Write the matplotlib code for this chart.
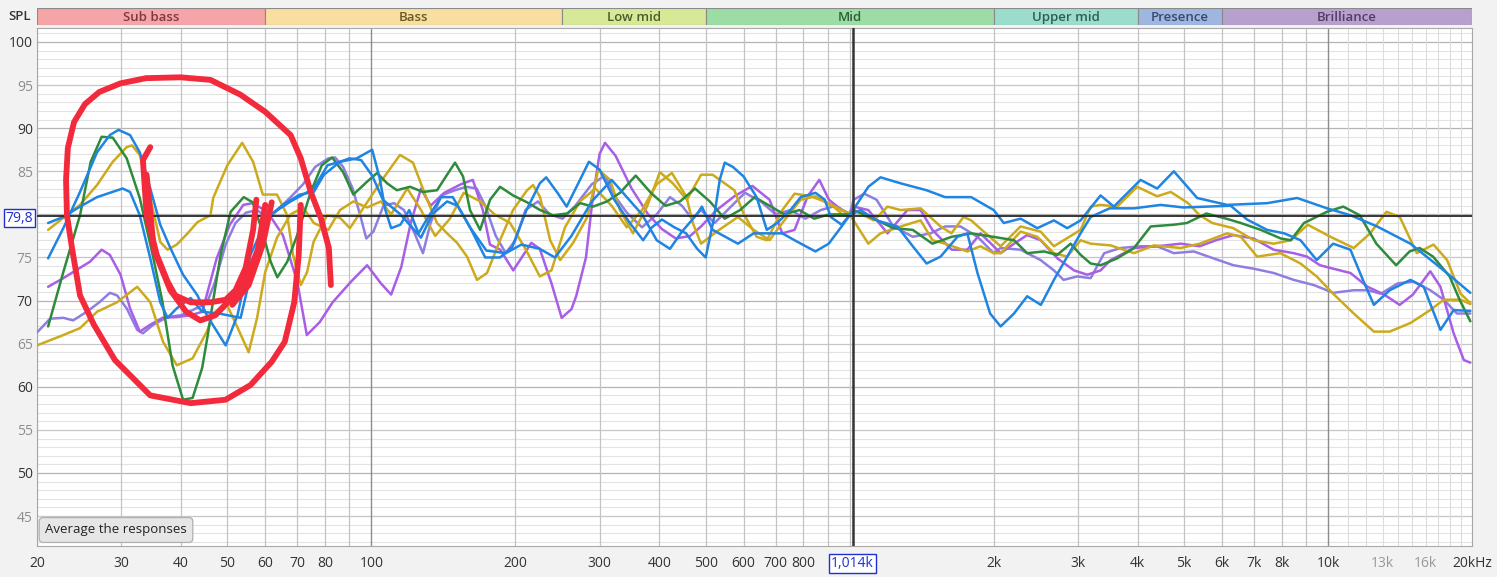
import matplotlib
matplotlib.use("Agg")
import matplotlib.pyplot as plt
from matplotlib.ticker import NullLocator

# ---------------- data ----------------
band_names = ["Sub bass", "Bass", "Low mid", "Mid", "Upper mid", "Presence", "Brilliance"]
band_edges = [20, 60, 250, 500, 2000, 4000, 6000, 20000]
band_colors = ["#f5a4a7", "#f8de9f", "#d7e897", "#9bdda4", "#9cdccd", "#9eb6e0", "#b7a0ce"]
band_text_colors = ["#7d3b3e", "#6a5a26", "#4b5b2a", "#2f5e3a", "#2d5d57", "#39496f", "#533f63"]

x_tick_values = [20, 30, 40, 50, 60, 70, 80, 100, 200, 300, 400, 500, 600, 700, 800,
                 1014, 2000, 3000, 4000, 5000, 6000, 7000, 8000, 10000, 13000, 16000, 20000]
x_tick_labels = ["20", "30", "40", "50", "60", "70", "80", "100", "200", "300", "400", "500",
                 "600", "700", "800", "1,014k", "2k", "3k", "4k", "5k", "6k", "7k", "8k",
                 "10k", "13k", "16k", "20kHz"]
y_tick_values = [45, 50, 55, 60, 65, 70, 75, 79.8, 85, 90, 95, 100]
y_tick_labels = ["45", "50", "55", "60", "65", "70", "75", "79,8", "85", "90", "95", "100"]
cursor_db = 79.8
cursor_freq = 1014

green_f = [21.1, 22.7, 24.6, 25.9, 27.3, 28.8, 30.8, 32.8, 34.9, 36.6, 38.4, 40.4, 42.3, 44.3, 45.5,
           46.7, 48.4, 50.8, 54.1, 56.5, 59.2, 61.6, 63.6, 66.7, 70.0, 74.7, 78.8, 82.8, 87.3, 91.7,
           98.0, 102.8, 107.9, 113.1, 120.5, 128.2, 137.2, 144, 149.6, 155.5, 160.8, 168.8, 177.1,
           185.8, 197.8, 211.6, 225.3, 239.8, 256.6, 273.2, 290.8, 311, 331, 357, 384, 412, 442, 475,
           510, 548, 590, 633, 680, 730, 785, 843, 905, 1000, 1019, 1123, 1234, 1355, 1489, 1634,
           1795, 1995, 2206, 2350, 2548, 2716, 2897, 3040, 3190, 3347, 3625, 3930, 4260, 4760, 5070,
           5570, 6130, 6570, 7240, 7970, 8360, 8910, 9950, 10760, 11650, 12620, 13880, 14810, 15540,
           16580, 17960, 18840, 19840]
green_db = [67.0, 73.3, 79.9, 86.1, 89.0, 88.9, 86.5, 81.9, 75.3, 69.8, 62.5, 58.5, 58.7, 62.2, 66.0,
            70.0, 75.3, 80.3, 82.0, 81.4, 78.0, 74.5, 72.7, 74.5, 77.6, 82.6, 85.7, 86.6, 84.9, 82.3,
            83.8, 84.8, 83.6, 82.8, 83.2, 82.6, 82.8, 84.6, 86.0, 84.4, 80.5, 78.2, 81.7,
            83.2, 82.2, 81.4, 80.5, 79.9, 80.1, 81.3, 80.9, 81.5, 82.5, 84.5, 82.5, 81.0, 81.5, 83.0,
            81.5, 79.5, 80.5, 82.0, 81.0, 80.0, 80.5, 79.5, 80.0, 80.0, 80.5, 79.5, 78.4, 78.2, 76.6, 77.4,
            77.8, 77.4, 77.0, 75.5, 75.7, 75.3, 76.6, 75.3, 74.3, 74.1, 74.9, 76.1, 78.6, 78.8, 79.0,
            80.1, 79.5, 79.0, 78.2, 77.2, 77.0, 79.0, 80.3, 80.9, 79.9, 76.6, 74.1, 75.7, 76.1,
            75.1, 72.8, 70.1, 67.6]

blue_a_f = [21.1, 22.7, 24.6, 26.7, 28.4, 29.6, 31.3, 32.8, 34.5, 36.2, 38.0, 40.4, 43.3, 45.3, 49.6,
            52.5, 55.9, 60.6, 65.3, 70.9, 75.8, 79.6, 86.0, 93.2, 100.4, 104.0, 107.0, 110.0, 115.0,
            120.0, 125.5, 131.5, 140, 148, 160.8, 173, 185.8, 197, 211, 225, 232, 245, 256, 273, 285,
            300, 322, 347, 370, 386, 405, 430, 455, 480, 500, 520, 535, 548, 570, 600, 639, 671, 705,
            752, 790, 848, 887, 913, 962, 1000, 1094, 1160, 1278, 1448, 1583, 1795, 2000, 2100, 2277,
            2467, 2673, 2850, 3039, 3346, 3567, 4056, 4394, 4761, 5327, 6154, 7460, 8619, 9956, 11140,
            12665, 14869, 17457, 19840]
blue_a_db = [74.9, 78.4, 82.6, 87.2, 89.2, 89.8, 89.2, 87.2, 83.0, 78.8, 76.1, 73.0, 70.6, 68.3, 64.8,
             68.3, 75.3, 79.6, 81.1, 82.3, 82.6, 84.6, 86.1, 86.5, 87.5, 84.3, 80.5, 78.4, 78.8,
             80.5, 77.8, 79.7, 82.0, 82.0, 78.5, 75.0, 75.0, 76.2, 80.5, 83.6, 84.3, 82.5, 80.9, 84.0, 86.1,
             85.2, 81.7, 79.0, 77.0, 78.5, 79.4, 78.5, 77.8, 76.0, 75.0, 79.5, 84.0, 86.0, 85.5, 84.4, 82.0,
             78.2, 79.0, 80.5, 82.0, 82.5, 81.7, 79.7, 78.8, 79.9, 83.2, 84.3, 83.6, 82.8, 82.0, 82.0, 80.5,
             79.0, 79.5, 78.4, 79.3, 78.4, 79.3, 82.2, 80.9, 84.0, 83.0, 85.0, 81.9, 81.1, 81.3, 81.9, 80.7,
             79.9, 78.6, 76.6, 73.5, 70.9]

blue_b_f = [21.1, 22.7, 24.6, 26.7, 28.4, 30.2, 31.3, 32.8, 34.5, 36.2, 37.5, 39.2, 41.9, 44.3, 48.0,
            53.3, 57.7, 61.3, 67.8, 75.8, 81.0, 86.0, 90.0, 95.2, 100.4, 105.7, 115, 127, 134, 144, 151.5,
            160.8, 174, 191, 206, 225, 242, 262, 289, 318, 342, 368, 395, 421, 446, 479, 491, 517, 584,
            630, 723, 767, 848, 904, 962, 1000, 1054, 1138, 1258, 1355, 1448, 1549, 1680, 1762, 1850,
            1966, 2068, 2206, 2350, 2510, 2673, 2850, 3039, 3190, 3495, 3929, 4470, 4987, 5570, 6260,
            6774, 7460, 8100, 8760, 9470, 10250, 11140, 11830, 12470, 13460, 14870, 15850, 17180, 18310,
            19840]
blue_b_db = [79.0, 79.7, 80.9, 82.0, 82.5, 83.0, 82.6, 79.9, 74.9, 69.8, 68.0, 69.1, 70.3, 68.7, 68.5,
             68.0, 76.1, 79.9, 81.5, 83.0, 85.7, 86.1, 86.5, 86.3, 84.5, 81.7, 80.0, 77.3, 80.0, 81.5, 81.0,
             78.5, 75.8, 75.5, 76.5, 76.0, 75.0, 77.5, 81.5, 84.0, 82.0, 80.0, 77.0, 76.0, 78.0, 80.0, 80.9,
             78.2, 76.6, 77.8, 77.8, 77.0, 75.7, 76.6, 78.6, 79.9, 80.5, 79.3, 78.6, 76.3, 74.3, 75.1, 77.4,
             77.8, 73.2, 68.5, 67.0, 68.5, 70.5, 69.5, 72.4, 75.1, 77.8, 79.7, 80.7, 80.7, 81.1, 80.8, 80.9,
             81.0, 79.4, 78.2, 77.8, 77.0, 74.7, 76.6, 75.9, 72.4, 69.5, 71.2, 72.4, 71.6, 66.6, 68.9, 68.8]

gold_a_f = [21.1, 22.7, 24.6, 26.7, 28.8, 30.8, 31.6, 32.8, 34.5, 36.2, 37.5, 39.2, 41.3, 43.3, 46.1,
            46.7, 50.0, 53.7, 56.6, 59.3, 63.5, 66.7, 68.6, 71.2, 73.4, 75.7, 80.8, 86.0, 90.2, 98.0,
            104.7, 114.8, 122.2, 130.8, 137.2, 144, 151.1, 158.5, 166.3, 174.5, 185.8, 197.8, 211.6,
            217.9, 225.3, 236.5, 248.2, 264.2, 282.8, 298.2, 315.6, 331.0, 352.3, 376.9, 401, 426.9,
            456.7, 489, 517, 574, 600, 639, 671, 723, 767, 829, 904, 962, 1000, 1019, 1123, 1200, 1278,
            1407, 1549, 1632, 1730, 1795, 1925, 2068, 2277, 2507, 2673, 3039, 3190, 3346, 3625, 3990,
            4394, 4690, 5100, 5390, 5730, 6340, 7000, 7700, 8360, 9070, 10120, 11320, 12250, 13250,
            14130, 15330, 16620, 17740, 18930, 19840]
gold_a_db = [78.2, 79.6, 81.1, 83.4, 86.1, 87.8, 88.0, 86.9, 81.9, 76.8, 75.9, 76.5, 77.8, 79.1, 79.9,
             81.9, 85.7, 88.3, 86.1, 82.3, 82.3, 79.9, 75.3, 71.8, 73.3, 76.8, 79.9, 79.6, 78.4, 81.4,
             83.8, 86.9, 86.0, 81.7, 79.0, 77.8, 76.7, 75.1, 72.4, 73.2, 77.0, 80.5, 82.8,
             83.4, 82.0, 77.0, 74.7, 76.7, 79.7, 85.2, 84.0, 80.5, 77.8, 80.9, 84.9, 83.6,
             81.7, 84.6, 84.6, 82.8, 80.1, 77.4, 77.0, 80.5, 82.4, 82.1, 81.3, 80.5, 80.1, 80.5, 79.3, 80.9,
             80.5, 80.7, 78.6, 77.8, 79.7, 79.3, 77.8, 76.3, 78.6, 78.0, 76.3, 78.2, 80.9, 81.1, 80.9, 83.2,
             82.1, 82.6, 81.3, 79.9, 79.0, 78.4, 77.0, 76.6, 77.0, 78.8, 77.4, 76.1, 77.8, 80.3,
             79.7, 75.5, 76.5, 74.7, 70.8, 69.7]

gold_b_f = [20.0, 22.7, 24.6, 26.7, 29.4, 32.4, 34.5, 36.7, 39.2, 42.3, 45.3, 46.8, 49.6, 51.9, 55.4,
            57.7, 60.0, 63.5, 67.8, 72.0, 75.8, 81.3, 86.0, 91.7, 98.0, 104.7, 110, 118.9, 127, 136,
            146, 156, 169, 181, 195, 210, 225, 238, 254, 273, 294, 318, 342, 368, 395, 425, 456, 470,
            489, 527, 584, 630, 680, 723, 790, 848, 925, 970, 1000, 1094, 1160, 1278, 1407, 1490, 1583,
            1762, 1877, 2000, 2068, 2277, 2467, 2673, 2850, 3039, 3190, 3512, 3929, 4325, 4920, 5390,
            6154, 6570, 7110, 7950, 8760, 9470, 10250, 11320, 12470, 13460, 14870, 16360, 17460, 18930,
            19840]
gold_b_db = [64.8, 66.0, 66.8, 68.7, 69.8, 71.6, 69.8, 65.2, 62.5, 63.3, 66.4, 68.5, 69.8, 67.5, 64.0,
             68.0, 73.3, 77.3, 80.0, 80.8, 79.0, 78.2, 80.5, 81.5, 80.8, 81.5, 80.0, 83.0, 80.5, 77.5,
             79.5, 82.5, 81.5, 80.0, 79.0, 76.0, 72.8, 73.5, 78.5, 81.5, 83.0, 81.0, 78.5, 80.5, 83.5, 84.8,
             82.0, 79.0, 76.6, 78.0, 79.7, 78.2, 77.0, 79.0, 81.7, 82.1, 80.9, 79.9, 80.0, 76.6, 77.8, 78.6,
             79.3, 77.0, 76.6, 75.7, 76.3, 75.5, 75.5, 78.0, 77.4, 75.5, 75.1, 77.0, 76.6, 76.4, 75.5, 76.4,
             76.1, 76.6, 77.8, 77.4, 75.1, 75.5, 74.3, 72.8, 70.8, 68.5, 66.4, 66.4, 67.4, 68.9, 70.1, 70.1,
             69.6]

violet_f = [21.1, 22.7, 24.6, 25.8, 27.3, 28.4, 29.9, 31.3, 32.8, 34.5, 36.6, 39.2, 41.9, 44.3, 47.5,
            50.6, 54.0, 56.5, 60.6, 65.3, 70.0, 73.3, 78.0, 83.0, 90.7, 98.0, 104.7, 110.0, 115.5, 120.9,
            127, 133, 142, 154, 163, 171, 177, 186, 198, 216, 225, 238, 250, 262, 268, 281, 290, 300, 308,
            324, 350, 379, 405, 433, 464, 489, 527, 574, 626, 680, 723, 767, 817, 864, 905, 962, 1000,
            1019, 1094, 1200, 1320, 1407, 1489, 1634, 1762, 1877, 2000, 2068, 2206, 2350, 2507, 2718,
            2945, 3138, 3346, 3512, 3929, 4394, 4920, 5390, 5832, 6345, 6987, 7700, 8480, 9040, 9620,
            10250, 11140, 12100, 13100, 14120, 15050, 16360, 17180, 18310, 19230, 19840]
violet_db = [71.6, 72.6, 73.8, 74.5, 75.9, 75.3, 73.0, 69.1, 66.4, 67.2, 68.0, 68.1, 68.3, 68.7, 74.9,
             78.8, 81.1, 81.3, 80.3, 77.6, 72.2, 66.0, 67.5, 69.8, 72.2, 74.1, 72.0, 70.7, 73.9, 79.0,
             83.0, 81.0, 82.5, 83.5, 84.0, 80.5, 76.5, 75.9, 73.5, 76.7, 76.0, 72.0, 68.0, 69.0, 70.5, 75.0,
             81.7, 87.0, 88.3, 86.8, 83.0, 80.0, 78.3, 77.2, 77.5, 78.6, 80.5, 82.1, 83.3, 81.7, 77.8, 78.2,
             82.1, 84.0, 81.7, 80.5, 80.1, 80.9, 80.5, 77.8, 80.5, 80.5, 78.2, 75.9, 75.9, 77.8, 76.3, 75.5,
             76.6, 77.6, 77.0, 74.9, 73.5, 73.0, 73.5, 74.7, 76.1, 76.3, 76.6, 76.3, 77.0, 77.6, 77.2, 75.9,
             75.5, 75.1, 74.1, 73.7, 73.2, 71.6, 70.7, 69.5, 70.7, 73.4, 71.6, 66.2, 63.1, 62.8]

lavender_f = [20.0, 21.3, 22.7, 23.8, 25.4, 27.0, 28.4, 29.4, 30.8, 32.4, 33.3, 35.0, 37.5, 40.0, 42.3,
              45.3, 47.0, 49.6, 52.0, 54.7, 57.7, 61.0, 63.6, 67.8, 72.0, 76.3, 81.3, 84.0, 87.3, 91.4,
              95.2, 97.6, 101, 106, 111.5, 117, 122.7, 128.2, 133, 140, 149.6, 158, 166, 173, 182, 191,
              200, 210, 223, 236, 251, 267, 289, 308, 324, 342, 368, 395, 421, 446, 468, 489, 522, 567,
              604, 652, 700, 752, 808, 870, 935, 1000, 1019, 1073, 1138, 1234, 1355, 1476, 1583, 1705,
              1850, 2000, 2068, 2277, 2507, 2673, 2800, 2990, 3190, 3405, 3685, 4056, 4394, 4761, 5240,
              5760, 6340, 6990, 7700, 8480, 9340, 10250, 11320, 12100, 12900, 13990, 15100, 16360, 17460,
              18600, 19840]
lavender_db = [66.3, 67.9, 68.0, 67.7, 68.7, 69.8, 70.9, 70.6, 69.1, 66.6, 66.2, 67.2, 68.1, 68.3, 68.9,
               69.7, 72.0, 76.5, 79.0, 80.2, 80.5, 79.5, 80.5, 82.0, 83.5, 85.5, 86.5, 86.6, 85.5, 83.0,
               79.5, 77.2, 78.0, 81.0, 81.3, 80.5, 78.0, 75.5, 79.0, 82.2, 82.8, 83.2, 83.0, 81.0, 77.5, 75.5,
               77.0, 80.5, 81.5, 80.0, 79.5, 81.0, 83.5, 84.5, 82.0, 80.2, 78.5, 80.0, 82.0, 81.0, 79.5, 80.5,
               79.0, 81.0, 82.5, 81.5, 80.0, 80.5, 79.5, 80.5, 81.0, 80.0, 81.7, 82.4, 81.7, 78.6, 77.4, 77.8,
               78.6, 78.6, 77.4, 75.5, 76.1, 75.9, 74.7, 73.5, 72.4, 72.8, 72.6, 75.5, 76.1, 76.3, 76.3, 75.5,
               75.7, 74.9, 74.1, 73.7, 73.2, 72.4, 71.8, 70.9, 71.2, 71.2, 70.8, 72.0, 72.2, 71.2, 70.1,
               68.5, 68.5]

# hand-drawn red annotation (frequency, dB)
red_loop_f = [71.2, 70.5, 69.0, 65.9, 61.9, 55.9, 49.6, 41.9, 34.5, 29.1, 26.3, 24.6, 23.7, 23.1, 23.0,
              23.2, 23.9, 25.2, 27.0, 29.9, 33.8, 39.9, 46.1, 53.2, 60.0, 67.8, 71.2, 74.7, 78.4, 81.5, 82.3]
red_loop_db = [81.1, 75.3, 69.8, 65.2, 62.9, 60.2, 58.5, 58.1, 59.0, 63.1, 67.2, 70.6, 75.9, 79.9, 84.0,
               87.7, 90.7, 92.8, 94.2, 95.2, 95.8, 95.9, 95.6, 93.9, 91.9, 89.2, 86.5, 82.6, 79.6, 76.1, 71.8]
red_s1_f = [34.5, 33.3, 33.9, 35.6, 37.5, 38.9, 41.9, 46.1, 49.6, 52.0, 54.6, 56.6, 57.5]
red_s1_db = [87.8, 86.3, 79.9, 75.3, 72.2, 70.6, 69.8, 69.8, 70.1, 71.2, 73.8, 78.2, 81.7]
red_s2_f = [33.9, 35.1, 38.0, 41.0, 43.9, 47.2, 50.7, 54.6, 57.9, 60.0]
red_s2_db = [84.6, 75.9, 71.2, 68.7, 67.7, 68.3, 70.1, 72.4, 75.9, 81.1]
red_s3_f = [61.9, 59.3, 55.4, 51.2]
red_s3_db = [81.4, 76.5, 71.8, 69.5]

# ---------------- figure ----------------
W, H = 1497, 577
plt.rcParams['font.family'] = ['Open Sans', 'DejaVu Sans']
fig = plt.figure(figsize=(W / 100, H / 100), dpi=100)
fig.patch.set_facecolor("#f2f2f2")

ax = fig.add_axes([37 / W, 1 - 546 / H, 1435 / W, 518 / H])
ax.set_xscale('log')
ax.set_xlim(20, 20000)
ax.set_ylim(41.53, 101.62)
ax.set_facecolor("white")

# horizontal grid
for d in range(42, 102):
    if d % 10 == 0:
        c, lw = "#b4b4b4", 0.9
    elif d % 5 == 0:
        c, lw = "#c6c6c6", 0.9
    else:
        c, lw = "#e3e3e3", 0.8
    ax.axhline(d, color=c, lw=lw, zorder=0)

# vertical grid
grid_freqs = ([f for f in range(20, 100, 10)] + [f for f in range(100, 1000, 100)] +
              [f for f in range(1000, 10000, 1000)] + [f for f in range(10000, 20001, 1000)])
for f in grid_freqs:
    if f in (100, 10000):
        c, lw = "#8c8c8c", 1.0
    elif f > 10000:
        c, lw = "#dcdcdc", 0.8
    else:
        c, lw = "#c4c4c4", 0.9
    ax.axvline(f, color=c, lw=lw, zorder=0)

# curves
curves = [
    (lavender_f, lavender_db, "#8f7ee2"),
    (violet_f, violet_db, "#a95ee6"),
    (gold_b_f, gold_b_db, "#ccaa1c"),
    (gold_a_f, gold_a_db, "#ccaa1c"),
    (green_f, green_db, "#2e8b3c"),
    (blue_b_f, blue_b_db, "#1f84e2"),
    (blue_a_f, blue_a_db, "#1f84e2"),
]
for i, (fx, dbs, col) in enumerate(curves):
    ax.plot(fx, dbs, color=col, lw=1.8, solid_joinstyle='round', solid_capstyle='round', zorder=3 + i)

# cursors
ax.axhline(cursor_db, color="#262626", lw=1.3, zorder=12)
ax.axvline(cursor_freq, color="#333333", lw=1.8, zorder=12)

# red annotation
for fx, dbs in [(red_loop_f, red_loop_db), (red_s1_f, red_s1_db), (red_s2_f, red_s2_db), (red_s3_f, red_s3_db)]:
    ax.plot(fx, dbs, color="#f22a3c", lw=4.2, solid_joinstyle='round', solid_capstyle='round', zorder=20)

# ticks
ax.xaxis.set_minor_locator(NullLocator())
ax.yaxis.set_minor_locator(NullLocator())
ax.set_xticks(x_tick_values)
ax.set_xticklabels(x_tick_labels)
ax.set_yticks(y_tick_values)
ax.set_yticklabels(y_tick_labels)
ax.tick_params(axis='both', length=0, labelsize=10)
ax.tick_params(axis='x', pad=7)
ax.tick_params(axis='y', pad=3)
for lab in ax.get_xticklabels():
    t = lab.get_text()
    if t in ("13k", "16k"):
        lab.set_color("#9a9a9a")
    elif t == "1,014k":
        lab.set_color("#1f2fd0")
        lab.set_bbox(dict(boxstyle="square,pad=0.15", fc="white", ec="#2030d0", lw=1.0))
    else:
        lab.set_color("#333333")
for lab, v in zip(ax.get_yticklabels(), y_tick_values):
    if lab.get_text() == "79,8":
        lab.set_color("#1f2fd0")
        lab.set_bbox(dict(boxstyle="square,pad=0.12", fc="white", ec="#2030d0", lw=1.0))
    elif v % 10 == 0:
        lab.set_color("#333333")
    else:
        lab.set_color("#8e8e8e")

for sp in ax.spines.values():
    sp.set_color("#a8a8a8")
    sp.set_linewidth(0.8)

# band bar
axb = fig.add_axes([37 / W, 1 - 25 / H, 1435 / W, 17 / H])
axb.set_xscale('log')
axb.set_xlim(20, 20000)
axb.set_ylim(0, 1)
axb.set_axis_off()
for i, name in enumerate(band_names):
    lo, hi = band_edges[i], band_edges[i + 1]
    axb.axvspan(lo, hi, facecolor=band_colors[i], edgecolor="#8a8a8a", lw=0.8)
    axb.text((lo * hi) ** 0.5, 0.45, name, ha="center", va="center", fontsize=9.5,
             fontweight="semibold", color=band_text_colors[i])

fig.text(20 / W, 1 - 16 / H, "SPL", ha="center", va="center", fontsize=9.5,
         fontweight="semibold", color="#333333")

# button
fig.text(116 / W, 1 - 530 / H, "Average the responses", ha="center", va="center", fontsize=9.5,
         color="#222222", zorder=30,
         bbox=dict(boxstyle="round,pad=0.45,rounding_size=0.3", fc="#e6e6e6", ec="#b0b0b0", lw=0.9))

fig.savefig("out.png", dpi=100, facecolor=fig.get_facecolor())
